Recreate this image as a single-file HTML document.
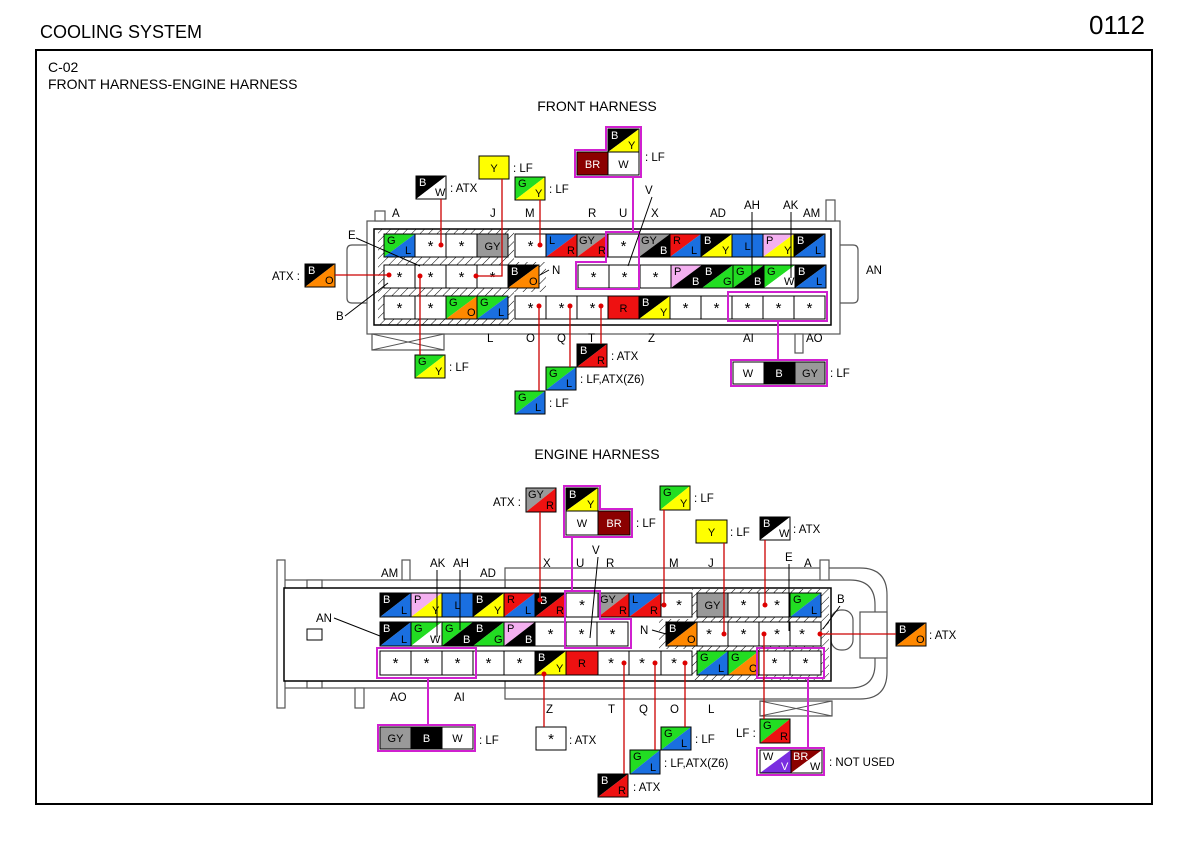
<!DOCTYPE html>
<html><head><meta charset="utf-8"><style>
body{margin:0;background:#fff}
svg{display:block}
text{font-family:"Liberation Sans",sans-serif}
.c{fill:none;stroke:#000;stroke-width:1}
.l{font-size:11px}
.k{font-size:11px;fill:#fff}
.a{font-size:15px}
.r{stroke:#c00;stroke-width:1.3;fill:none}
.m{stroke:#d020d0;stroke-width:2;fill:none}
.lb{font-size:11.5px}
</style></head><body>
<svg width="1189" height="859" viewBox="0 0 1189 859" xmlns="http://www.w3.org/2000/svg">
<defs>
<pattern id="h" width="6" height="6" patternUnits="userSpaceOnUse" patternTransform="rotate(45)"><line x1="0" y1="0" x2="0" y2="6" stroke="#000" stroke-width="1"/></pattern>
</defs>
<rect width="1189" height="859" fill="#fff"/>
<text x="40" y="38" font-size="18">COOLING SYSTEM</text>
<text x="1089" y="34" font-size="26">0112</text>
<rect x="36" y="50" width="1116" height="754" fill="none" stroke="#000" stroke-width="2"/>
<text x="48" y="72" font-size="14">C-02</text>
<text x="48" y="89" font-size="14">FRONT HARNESS-ENGINE HARNESS</text>
<text x="597" y="111" font-size="14" text-anchor="middle">FRONT HARNESS</text>
<text x="597" y="459" font-size="14" text-anchor="middle">ENGINE HARNESS</text>

<!-- FRONT HOUSING -->
<g stroke="#555" fill="#fff" stroke-width="1.2">
<path d="M347 250 Q347 245 352 245 H378 V303 H352 Q347 303 347 298Z"/>
<path d="M831 245 H853 Q858 245 858 250 V298 Q858 303 853 303 H831Z"/>
<rect x="367" y="221" width="473" height="113"/>
<rect x="375" y="211" width="10" height="10"/>
<rect x="826" y="200" width="9" height="21"/>
<rect x="372" y="334" width="72" height="16"/>
<rect x="795" y="334" width="8" height="19"/>
</g>
<path d="M372 334 L444 350 M444 334 L372 350" stroke="#555"/>
<rect x="374" y="229" width="457" height="96" fill="#fff" stroke="#000" stroke-width="1.5"/>
<path d="M378 229 H514 V262 H546 V292 H514 V325 H378Z" fill="url(#h)"/>
<g stroke="#000" fill="#fff">
<rect x="384" y="234" width="124" height="23"/><rect x="515" y="234" width="310" height="23"/>
<rect x="384" y="265" width="155" height="23"/><rect x="578" y="265" width="248" height="23"/>
<rect x="384" y="296" width="124" height="23"/><rect x="515" y="296" width="310" height="23"/>
</g>

<!-- front row1 -->
<g transform="translate(384,234)"><path d="M0 0h31L0 23z" fill="#2d2"/><path d="M31 0v23H0z" fill="#1a6fe0"/><rect width="31" height="23" class="c"/><text x="3" y="10" class="l">G</text><text x="21" y="20" class="l">L</text></g>
<g transform="translate(415,234)"><rect width="31" height="23" class="c"/><text x="15.5" y="17" class="a" text-anchor="middle">*</text></g>
<g transform="translate(446,234)"><rect width="31" height="23" class="c"/><text x="15.5" y="17" class="a" text-anchor="middle">*</text></g>
<g transform="translate(477,234)"><rect width="31" height="23" fill="#999" stroke="#000"/><text x="15.5" y="16" class="l" text-anchor="middle">GY</text></g>
<g transform="translate(515,234)"><rect width="31" height="23" class="c"/><text x="15.5" y="17" class="a" text-anchor="middle">*</text></g>
<g transform="translate(546,234)"><path d="M0 0h31L0 23z" fill="#1a6fe0"/><path d="M31 0v23H0z" fill="#e11"/><rect width="31" height="23" class="c"/><text x="3" y="10" class="l">L</text><text x="21" y="20" class="l">R</text></g>
<g transform="translate(577,234)"><path d="M0 0h31L0 23z" fill="#999"/><path d="M31 0v23H0z" fill="#e11"/><rect width="31" height="23" class="c"/><text x="2" y="10" class="l">GY</text><text x="21" y="20" class="l">R</text></g>
<g transform="translate(608,234)"><rect width="31" height="23" class="c"/><text x="15.5" y="17" class="a" text-anchor="middle">*</text></g>
<g transform="translate(639,234)"><path d="M0 0h31L0 23z" fill="#999"/><path d="M31 0v23H0z" fill="#000"/><rect width="31" height="23" class="c"/><text x="2" y="10" class="l">GY</text><text x="21" y="20" class="k">B</text></g>
<g transform="translate(670,234)"><path d="M0 0h31L0 23z" fill="#e11"/><path d="M31 0v23H0z" fill="#1a6fe0"/><rect width="31" height="23" class="c"/><text x="3" y="10" class="l">R</text><text x="21" y="20" class="l">L</text></g>
<g transform="translate(701,234)"><path d="M0 0h31L0 23z" fill="#000"/><path d="M31 0v23H0z" fill="#ff0"/><rect width="31" height="23" class="c"/><text x="3" y="10" class="k">B</text><text x="21" y="20" class="l">Y</text></g>
<g transform="translate(732,234)"><rect width="31" height="23" fill="#1a6fe0" stroke="#000"/><text x="15.5" y="16" class="l" text-anchor="middle">L</text></g>
<g transform="translate(763,234)"><path d="M0 0h31L0 23z" fill="#f4b0f0"/><path d="M31 0v23H0z" fill="#ff0"/><rect width="31" height="23" class="c"/><text x="3" y="10" class="l">P</text><text x="21" y="20" class="l">Y</text></g>
<g transform="translate(794,234)"><path d="M0 0h31L0 23z" fill="#000"/><path d="M31 0v23H0z" fill="#1a6fe0"/><rect width="31" height="23" class="c"/><text x="3" y="10" class="k">B</text><text x="21" y="20" class="l">L</text></g>
<!-- front row2 -->
<g transform="translate(384,265)"><rect width="31" height="23" class="c"/><text x="15.5" y="17" class="a" text-anchor="middle">*</text></g>
<g transform="translate(415,265)"><rect width="31" height="23" class="c"/><text x="15.5" y="17" class="a" text-anchor="middle">*</text></g>
<g transform="translate(446,265)"><rect width="31" height="23" class="c"/><text x="15.5" y="17" class="a" text-anchor="middle">*</text></g>
<g transform="translate(477,265)"><rect width="31" height="23" class="c"/><text x="15.5" y="17" class="a" text-anchor="middle">*</text></g>
<g transform="translate(508,265)"><path d="M0 0h31L0 23z" fill="#000"/><path d="M31 0v23H0z" fill="#f80"/><rect width="31" height="23" class="c"/><text x="3" y="10" class="k">B</text><text x="21" y="20" class="l">O</text></g>
<g transform="translate(578,265)"><rect width="31" height="23" class="c"/><text x="15.5" y="17" class="a" text-anchor="middle">*</text></g>
<g transform="translate(609,265)"><rect width="31" height="23" class="c"/><text x="15.5" y="17" class="a" text-anchor="middle">*</text></g>
<g transform="translate(640,265)"><rect width="31" height="23" class="c"/><text x="15.5" y="17" class="a" text-anchor="middle">*</text></g>
<g transform="translate(671,265)"><path d="M0 0h31L0 23z" fill="#f4b0f0"/><path d="M31 0v23H0z" fill="#000"/><rect width="31" height="23" class="c"/><text x="3" y="10" class="l">P</text><text x="21" y="20" class="k">B</text></g>
<g transform="translate(702,265)"><path d="M0 0h31L0 23z" fill="#000"/><path d="M31 0v23H0z" fill="#2d2"/><rect width="31" height="23" class="c"/><text x="3" y="10" class="k">B</text><text x="21" y="20" class="l">G</text></g>
<g transform="translate(733,265)"><path d="M0 0h31L0 23z" fill="#2d2"/><path d="M31 0v23H0z" fill="#000"/><rect width="31" height="23" class="c"/><text x="3" y="10" class="l">G</text><text x="21" y="20" class="k">B</text></g>
<g transform="translate(764,265)"><path d="M0 0h31L0 23z" fill="#2d2"/><path d="M31 0v23H0z" fill="#fff"/><rect width="31" height="23" class="c"/><text x="3" y="10" class="l">G</text><text x="20" y="20" class="l">W</text></g>
<g transform="translate(795,265)"><path d="M0 0h31L0 23z" fill="#000"/><path d="M31 0v23H0z" fill="#1a6fe0"/><rect width="31" height="23" class="c"/><text x="3" y="10" class="k">B</text><text x="21" y="20" class="l">L</text></g>
<!-- front row3 -->
<g transform="translate(384,296)"><rect width="31" height="23" class="c"/><text x="15.5" y="17" class="a" text-anchor="middle">*</text></g>
<g transform="translate(415,296)"><rect width="31" height="23" class="c"/><text x="15.5" y="17" class="a" text-anchor="middle">*</text></g>
<g transform="translate(446,296)"><path d="M0 0h31L0 23z" fill="#2d2"/><path d="M31 0v23H0z" fill="#f80"/><rect width="31" height="23" class="c"/><text x="3" y="10" class="l">G</text><text x="21" y="20" class="l">O</text></g>
<g transform="translate(477,296)"><path d="M0 0h31L0 23z" fill="#2d2"/><path d="M31 0v23H0z" fill="#1a6fe0"/><rect width="31" height="23" class="c"/><text x="3" y="10" class="l">G</text><text x="21" y="20" class="l">L</text></g>
<g transform="translate(515,296)"><rect width="31" height="23" class="c"/><text x="15.5" y="17" class="a" text-anchor="middle">*</text></g>
<g transform="translate(546,296)"><rect width="31" height="23" class="c"/><text x="15.5" y="17" class="a" text-anchor="middle">*</text></g>
<g transform="translate(577,296)"><rect width="31" height="23" class="c"/><text x="15.5" y="17" class="a" text-anchor="middle">*</text></g>
<g transform="translate(608,296)"><rect width="31" height="23" fill="#e11" stroke="#000"/><text x="15.5" y="16" class="l" text-anchor="middle">R</text></g>
<g transform="translate(639,296)"><path d="M0 0h31L0 23z" fill="#000"/><path d="M31 0v23H0z" fill="#ff0"/><rect width="31" height="23" class="c"/><text x="3" y="10" class="k">B</text><text x="21" y="20" class="l">Y</text></g>
<g transform="translate(670,296)"><rect width="31" height="23" class="c"/><text x="15.5" y="17" class="a" text-anchor="middle">*</text></g>
<g transform="translate(701,296)"><rect width="31" height="23" class="c"/><text x="15.5" y="17" class="a" text-anchor="middle">*</text></g>
<g transform="translate(732,296)"><rect width="31" height="23" class="c"/><text x="15.5" y="17" class="a" text-anchor="middle">*</text></g>
<g transform="translate(763,296)"><rect width="31" height="23" class="c"/><text x="15.5" y="17" class="a" text-anchor="middle">*</text></g>
<g transform="translate(794,296)"><rect width="31" height="23" class="c"/><text x="15.5" y="17" class="a" text-anchor="middle">*</text></g>

<path class="m" d="M606 232 H639 V289 H576 V262 H606Z"/>
<rect class="m" x="728" y="292" width="99" height="29"/>

<g class="lb">
<text x="392" y="217">A</text><text x="490" y="217">J</text><text x="525" y="217">M</text><text x="588" y="217">R</text><text x="619" y="217">U</text><text x="651" y="217">X</text><text x="710" y="217">AD</text>
<text x="744" y="209">AH</text><text x="783" y="209">AK</text><text x="803" y="217">AM</text>
<text x="487" y="342">L</text><text x="526" y="342">O</text><text x="557" y="342">Q</text><text x="588" y="342">T</text><text x="648" y="342">Z</text><text x="743" y="342">AI</text><text x="806" y="342">AO</text>
<text x="866" y="274">AN</text><text x="348" y="239">E</text><text x="336" y="320">B</text><text x="552" y="274">N</text><text x="645" y="194">V</text>
</g>
<path d="M356 238 L420 266 M345 316 L388 283 M549 270 L540 275 M652 197 L628 266 M752 212 L752 278 M791 212 L791 278" stroke="#000" fill="none"/>

<g transform="translate(416,176)"><path d="M0 0h30L0 23z" fill="#000"/><path d="M30 0v23H0z" fill="#fff"/><rect width="30" height="23" class="c"/><text x="3" y="10" class="k">B</text><text x="19" y="20" class="l">W</text></g>
<text x="450" y="192" class="lb">: ATX</text>
<rect x="479" y="156" width="30" height="23" fill="#ff0" stroke="#000"/><text x="494" y="172" class="l" text-anchor="middle">Y</text><text x="513" y="172" class="lb">: LF</text>
<g transform="translate(515,177)"><path d="M0 0h30L0 23z" fill="#2d2"/><path d="M30 0v23H0z" fill="#ff0"/><rect width="30" height="23" class="c"/><text x="3" y="10" class="l">G</text><text x="20" y="20" class="l">Y</text></g>
<text x="549" y="193" class="lb">: LF</text>
<g transform="translate(608,129)"><path d="M0 0h31L0 23z" fill="#000"/><path d="M31 0v23H0z" fill="#ff0"/><rect width="31" height="23" class="c"/><text x="3" y="10" class="k">B</text><text x="20" y="20" class="l">Y</text></g>
<rect x="577" y="152" width="31" height="23" fill="#8b0000" stroke="#000"/><text x="592.5" y="168" class="k" text-anchor="middle">BR</text>
<rect x="608" y="152" width="31" height="23" fill="#fff" stroke="#000"/><text x="623.5" y="168" class="l" text-anchor="middle">W</text>
<path class="m" d="M606 127 H641 V177 H575 V150 H606Z"/>
<text x="645" y="161" class="lb">: LF</text>
<path class="m" d="M633 177 V232"/>
<g transform="translate(305,264)"><path d="M0 0h30L0 23z" fill="#000"/><path d="M30 0v23H0z" fill="#f80"/><rect width="30" height="23" class="c"/><text x="3" y="10" class="k">B</text><text x="20" y="20" class="l">O</text></g>
<text x="272" y="280" class="lb">ATX :</text>
<g transform="translate(415,355)"><path d="M0 0h30L0 23z" fill="#2d2"/><path d="M30 0v23H0z" fill="#ff0"/><rect width="30" height="23" class="c"/><text x="3" y="10" class="l">G</text><text x="20" y="20" class="l">Y</text></g>
<text x="449" y="371" class="lb">: LF</text>
<g transform="translate(577,344)"><path d="M0 0h30L0 23z" fill="#000"/><path d="M30 0v23H0z" fill="#e11"/><rect width="30" height="23" class="c"/><text x="3" y="10" class="k">B</text><text x="20" y="20" class="l">R</text></g>
<text x="611" y="360" class="lb">: ATX</text>
<g transform="translate(546,367)"><path d="M0 0h30L0 23z" fill="#2d2"/><path d="M30 0v23H0z" fill="#1a6fe0"/><rect width="30" height="23" class="c"/><text x="3" y="10" class="l">G</text><text x="20" y="20" class="l">L</text></g>
<text x="580" y="383" class="lb">: LF,ATX(Z6)</text>
<g transform="translate(515,391)"><path d="M0 0h30L0 23z" fill="#2d2"/><path d="M30 0v23H0z" fill="#1a6fe0"/><rect width="30" height="23" class="c"/><text x="3" y="10" class="l">G</text><text x="20" y="20" class="l">L</text></g>
<text x="549" y="407" class="lb">: LF</text>
<rect x="733" y="362" width="31" height="22" fill="#fff" stroke="#000"/><text x="748" y="377" class="l" text-anchor="middle">W</text>
<rect x="764" y="362" width="31" height="22" fill="#000" stroke="#000"/><text x="779" y="377" class="k" text-anchor="middle">B</text>
<rect x="795" y="362" width="30" height="22" fill="#999" stroke="#000"/><text x="810" y="377" class="l" text-anchor="middle">GY</text>
<rect class="m" x="731" y="360" width="96" height="26"/>
<text x="830" y="377" class="lb">: LF</text>
<path class="m" d="M778 321 V360"/>
<path class="r" d="M441 199 V245 M502 179 V276 H476 M540 200 V245 M335 275 H389 M420 276 V355 M601 306 V344 M570 306 V367 M539 306 V391"/>
<g fill="#d00"><circle cx="441" cy="245" r="2.5"/><circle cx="476" cy="276" r="2.5"/><circle cx="540" cy="245" r="2.5"/><circle cx="389" cy="275" r="2.5"/><circle cx="420" cy="276" r="2.5"/><circle cx="601" cy="306" r="2.5"/><circle cx="570" cy="306" r="2.5"/><circle cx="539" cy="306" r="2.5"/></g>

<!-- ENGINE HOUSING -->
<g stroke="#555" fill="none" stroke-width="1.2">
<path d="M505 568 H860 Q887 568 887 595 V672 Q887 699 860 699 H505 Z" fill="#fff"/>
<path d="M505 580 H850 Q875 580 875 605 V664 Q875 688 850 688 H505"/>
<rect x="284" y="580" width="221" height="108" fill="#fff"/>
<rect x="277" y="560" width="8" height="148" fill="#fff"/>
<rect x="307" y="580" width="15" height="8" fill="#fff"/>
<rect x="307" y="681" width="15" height="7" fill="#fff"/>
<rect x="402" y="560" width="8" height="20" fill="#fff"/>
<rect x="355" y="688" width="9" height="20" fill="#fff"/>
<rect x="820" y="560" width="9" height="20" fill="#fff"/>
<rect x="347" y="605" width="33" height="60" rx="12" fill="#fff"/>
<rect x="831" y="610" width="22" height="40" rx="10" fill="#fff"/>
<rect x="860" y="612" width="27" height="46" fill="#fff"/>
<rect x="760" y="701" width="72" height="15" fill="#fff"/>
</g>
<path d="M760 701 L832 716 M832 701 L760 716" stroke="#555"/>
<rect x="284" y="588" width="547" height="93" fill="#fff" stroke="#000" stroke-width="1.5"/>
<rect x="307" y="629" width="15" height="11" fill="#fff" stroke="#000"/>
<path d="M692 589 H829 V680 H692 V649 H659 V619 H692Z" fill="url(#h)"/>
<g stroke="#000" fill="#fff">
<rect x="380" y="593" width="312" height="24"/><rect x="697" y="593" width="124" height="24"/>
<rect x="380" y="622" width="248" height="24"/><rect x="666" y="622" width="155" height="24"/>
<rect x="380" y="651" width="312" height="24"/><rect x="697" y="651" width="124" height="24"/>
</g>
<!-- engine row1 -->
<g transform="translate(380,593)"><path d="M0 0h31L0 24z" fill="#000"/><path d="M31 0v24H0z" fill="#1a6fe0"/><rect width="31" height="24" class="c"/><text x="3" y="10" class="k">B</text><text x="21" y="21" class="l">L</text></g>
<g transform="translate(411,593)"><path d="M0 0h31L0 24z" fill="#f4b0f0"/><path d="M31 0v24H0z" fill="#ff0"/><rect width="31" height="24" class="c"/><text x="3" y="10" class="l">P</text><text x="21" y="21" class="l">Y</text></g>
<g transform="translate(442,593)"><rect width="31" height="24" fill="#1a6fe0" stroke="#000"/><text x="15.5" y="16" class="l" text-anchor="middle">L</text></g>
<g transform="translate(473,593)"><path d="M0 0h31L0 24z" fill="#000"/><path d="M31 0v24H0z" fill="#ff0"/><rect width="31" height="24" class="c"/><text x="3" y="10" class="k">B</text><text x="21" y="21" class="l">Y</text></g>
<g transform="translate(504,593)"><path d="M0 0h31L0 24z" fill="#e11"/><path d="M31 0v24H0z" fill="#1a6fe0"/><rect width="31" height="24" class="c"/><text x="3" y="10" class="l">R</text><text x="21" y="21" class="l">L</text></g>
<g transform="translate(535,593)"><path d="M0 0h31L0 24z" fill="#000"/><path d="M31 0v24H0z" fill="#e11"/><rect width="31" height="24" class="c"/><text x="5" y="11" class="k">B</text><text x="21" y="21" class="l">R</text></g>
<g transform="translate(566,593)"><rect width="32" height="24" class="c"/><text x="16" y="17" class="a" text-anchor="middle">*</text></g>
<g transform="translate(598,593)"><path d="M0 0h31L0 24z" fill="#999"/><path d="M31 0v24H0z" fill="#e11"/><rect width="31" height="24" class="c"/><text x="2" y="10" class="l">GY</text><text x="21" y="21" class="l">R</text></g>
<g transform="translate(629,593)"><path d="M0 0h32L0 24z" fill="#1a6fe0"/><path d="M32 0v24H0z" fill="#e11"/><rect width="32" height="24" class="c"/><text x="3" y="10" class="l">L</text><text x="21" y="21" class="l">R</text></g>
<g transform="translate(661,593)"><rect width="31" height="24" class="c"/><text x="18" y="17" class="a" text-anchor="middle">*</text></g>
<g transform="translate(697,593)"><rect width="31" height="24" fill="#999" stroke="#000"/><text x="15.5" y="16" class="l" text-anchor="middle">GY</text></g>
<g transform="translate(728,593)"><rect width="31" height="24" class="c"/><text x="15.5" y="17" class="a" text-anchor="middle">*</text></g>
<g transform="translate(759,593)"><rect width="31" height="24" class="c"/><text x="18" y="17" class="a" text-anchor="middle">*</text></g>
<g transform="translate(790,593)"><path d="M0 0h31L0 24z" fill="#2d2"/><path d="M31 0v24H0z" fill="#1a6fe0"/><rect width="31" height="24" class="c"/><text x="3" y="10" class="l">G</text><text x="21" y="21" class="l">L</text></g>
<!-- engine row2 -->
<g transform="translate(380,622)"><path d="M0 0h31L0 24z" fill="#000"/><path d="M31 0v24H0z" fill="#1a6fe0"/><rect width="31" height="24" class="c"/><text x="3" y="10" class="k">B</text><text x="21" y="21" class="l">L</text></g>
<g transform="translate(411,622)"><path d="M0 0h31L0 24z" fill="#2d2"/><path d="M31 0v24H0z" fill="#fff"/><rect width="31" height="24" class="c"/><text x="3" y="10" class="l">G</text><text x="19" y="21" class="l">W</text></g>
<g transform="translate(442,622)"><path d="M0 0h31L0 24z" fill="#2d2"/><path d="M31 0v24H0z" fill="#000"/><rect width="31" height="24" class="c"/><text x="3" y="10" class="l">G</text><text x="21" y="21" class="k">B</text></g>
<g transform="translate(473,622)"><path d="M0 0h31L0 24z" fill="#000"/><path d="M31 0v24H0z" fill="#2d2"/><rect width="31" height="24" class="c"/><text x="3" y="10" class="k">B</text><text x="21" y="21" class="l">G</text></g>
<g transform="translate(504,622)"><path d="M0 0h31L0 24z" fill="#f4b0f0"/><path d="M31 0v24H0z" fill="#000"/><rect width="31" height="24" class="c"/><text x="3" y="10" class="l">P</text><text x="21" y="21" class="k">B</text></g>
<g transform="translate(535,622)"><rect width="31" height="24" class="c"/><text x="15.5" y="17" class="a" text-anchor="middle">*</text></g>
<g transform="translate(566,622)"><rect width="31" height="24" class="c"/><text x="15.5" y="17" class="a" text-anchor="middle">*</text></g>
<g transform="translate(597,622)"><rect width="31" height="24" class="c"/><text x="15.5" y="17" class="a" text-anchor="middle">*</text></g>
<g transform="translate(666,622)"><path d="M0 0h31L0 24z" fill="#000"/><path d="M31 0v24H0z" fill="#f80"/><rect width="31" height="24" class="c"/><text x="3" y="10" class="k">B</text><text x="21" y="21" class="l">O</text></g>
<g transform="translate(697,622)"><rect width="31" height="24" class="c"/><text x="12" y="17" class="a" text-anchor="middle">*</text></g>
<g transform="translate(728,622)"><rect width="31" height="24" class="c"/><text x="15.5" y="17" class="a" text-anchor="middle">*</text></g>
<g transform="translate(759,622)"><rect width="31" height="24" class="c"/><text x="18" y="17" class="a" text-anchor="middle">*</text></g>
<g transform="translate(790,622)"><rect width="31" height="24" class="c"/><text x="12" y="17" class="a" text-anchor="middle">*</text></g>
<!-- engine row3 -->
<g transform="translate(380,651)"><rect width="31" height="24" class="c"/><text x="15.5" y="17" class="a" text-anchor="middle">*</text></g>
<g transform="translate(411,651)"><rect width="31" height="24" class="c"/><text x="15.5" y="17" class="a" text-anchor="middle">*</text></g>
<g transform="translate(442,651)"><rect width="31" height="24" class="c"/><text x="15.5" y="17" class="a" text-anchor="middle">*</text></g>
<g transform="translate(473,651)"><rect width="31" height="24" class="c"/><text x="15.5" y="17" class="a" text-anchor="middle">*</text></g>
<g transform="translate(504,651)"><rect width="31" height="24" class="c"/><text x="15.5" y="17" class="a" text-anchor="middle">*</text></g>
<g transform="translate(535,651)"><path d="M0 0h31L0 24z" fill="#000"/><path d="M31 0v24H0z" fill="#ff0"/><rect width="31" height="24" class="c"/><text x="3" y="10" class="k">B</text><text x="21" y="21" class="l">Y</text></g>
<g transform="translate(566,651)"><rect width="32" height="24" fill="#e11" stroke="#000"/><text x="16" y="16" class="l" text-anchor="middle">R</text></g>
<g transform="translate(598,651)"><rect width="31" height="24" class="c"/><text x="13" y="17" class="a" text-anchor="middle">*</text></g>
<g transform="translate(629,651)"><rect width="32" height="24" class="c"/><text x="13" y="17" class="a" text-anchor="middle">*</text></g>
<g transform="translate(661,651)"><rect width="31" height="24" class="c"/><text x="13" y="17" class="a" text-anchor="middle">*</text></g>
<g transform="translate(697,651)"><path d="M0 0h31L0 24z" fill="#2d2"/><path d="M31 0v24H0z" fill="#1a6fe0"/><rect width="31" height="24" class="c"/><text x="3" y="10" class="l">G</text><text x="21" y="21" class="l">L</text></g>
<g transform="translate(728,651)"><path d="M0 0h31L0 24z" fill="#2d2"/><path d="M31 0v24H0z" fill="#f80"/><rect width="31" height="24" class="c"/><text x="3" y="10" class="l">G</text><text x="21" y="21" class="l">O</text></g>
<g transform="translate(759,651)"><rect width="31" height="24" class="c"/><text x="15.5" y="17" class="a" text-anchor="middle">*</text></g>
<g transform="translate(790,651)"><rect width="31" height="24" class="c"/><text x="15.5" y="17" class="a" text-anchor="middle">*</text></g>
<!-- engine pink -->
<path class="m" d="M565 591 H600 V619 H631 V648 H565Z"/>
<rect class="m" x="377" y="648" width="99" height="30"/>
<rect class="m" x="757" y="648" width="67" height="30"/>

<g class="lb">
<text x="381" y="577">AM</text><text x="430" y="567">AK</text><text x="453" y="567">AH</text><text x="480" y="577">AD</text><text x="543" y="567">X</text><text x="576" y="567">U</text><text x="606" y="567">R</text><text x="669" y="567">M</text><text x="708" y="567">J</text><text x="785" y="561">E</text><text x="804" y="567">A</text>
<text x="316" y="622">AN</text><text x="837" y="603">B</text><text x="640" y="634">N</text><text x="592" y="554">V</text>
<text x="390" y="701">AO</text><text x="454" y="701">AI</text><text x="546" y="713">Z</text><text x="608" y="713">T</text><text x="639" y="713">Q</text><text x="670" y="713">O</text><text x="708" y="713">L</text>
</g>
<path d="M334 618 L380 636 M437 570 L437 637 M460 570 L460 630 M598 557 L590 638 M652 630 L666 634 M789 564 V631 M840 606 L823 629" stroke="#000" fill="none"/>

<!-- engine callouts -->
<g transform="translate(526,488)"><path d="M0 0h30L0 24z" fill="#999"/><path d="M30 0v24H0z" fill="#e11"/><rect width="30" height="24" class="c"/><text x="2" y="10" class="l">GY</text><text x="20" y="21" class="l">R</text></g>
<text x="493" y="506" class="lb">ATX :</text>
<g transform="translate(566,488)"><path d="M0 0h32L0 23z" fill="#000"/><path d="M32 0v23H0z" fill="#ff0"/><rect width="32" height="23" class="c"/><text x="3" y="10" class="k">B</text><text x="21" y="20" class="l">Y</text></g>
<rect x="566" y="511" width="32" height="24" fill="#fff" stroke="#000"/><text x="582" y="527" class="l" text-anchor="middle">W</text>
<rect x="598" y="511" width="32" height="24" fill="#8b0000" stroke="#000"/><text x="614" y="527" class="k" text-anchor="middle">BR</text>
<path class="m" d="M564 486 H600 V509 H632 V537 H564Z"/>
<text x="636" y="527" class="lb">: LF</text>
<path class="m" d="M572 537 V591"/>
<g transform="translate(660,486)"><path d="M0 0h30L0 24z" fill="#2d2"/><path d="M30 0v24H0z" fill="#ff0"/><rect width="30" height="24" class="c"/><text x="3" y="10" class="l">G</text><text x="20" y="21" class="l">Y</text></g>
<text x="694" y="502" class="lb">: LF</text>
<rect x="696" y="520" width="31" height="23" fill="#ff0" stroke="#000"/><text x="711.5" y="536" class="l" text-anchor="middle">Y</text><text x="730" y="536" class="lb">: LF</text>
<g transform="translate(760,517)"><path d="M0 0h30L0 23z" fill="#000"/><path d="M30 0v23H0z" fill="#fff"/><rect width="30" height="23" class="c"/><text x="3" y="10" class="k">B</text><text x="19" y="20" class="l">W</text></g>
<text x="793" y="533" class="lb">: ATX</text>
<g transform="translate(896,623)"><path d="M0 0h30L0 23z" fill="#000"/><path d="M30 0v23H0z" fill="#f80"/><rect width="30" height="23" class="c"/><text x="3" y="10" class="k">B</text><text x="20" y="20" class="l">O</text></g>
<text x="929" y="639" class="lb">: ATX</text>
<rect x="380" y="727" width="31" height="22" fill="#999" stroke="#000"/><text x="395.5" y="742" class="l" text-anchor="middle">GY</text>
<rect x="411" y="727" width="31" height="22" fill="#000" stroke="#000"/><text x="426.5" y="742" class="k" text-anchor="middle">B</text>
<rect x="442" y="727" width="31" height="22" fill="#fff" stroke="#000"/><text x="457.5" y="742" class="l" text-anchor="middle">W</text>
<rect class="m" x="378" y="725" width="97" height="26"/>
<text x="479" y="744" class="lb">: LF</text>
<path class="m" d="M428 678 V725 M808 678 V748"/>
<rect x="536" y="727" width="30" height="23" fill="#fff" stroke="#000"/><text x="551" y="744" class="a" text-anchor="middle">*</text><text x="569" y="744" class="lb">: ATX</text>
<g transform="translate(661,727)"><path d="M0 0h30L0 23z" fill="#2d2"/><path d="M30 0v23H0z" fill="#1a6fe0"/><rect width="30" height="23" class="c"/><text x="3" y="10" class="l">G</text><text x="20" y="20" class="l">L</text></g>
<text x="695" y="743" class="lb">: LF</text>
<g transform="translate(630,750)"><path d="M0 0h30L0 24z" fill="#2d2"/><path d="M30 0v24H0z" fill="#1a6fe0"/><rect width="30" height="24" class="c"/><text x="3" y="10" class="l">G</text><text x="20" y="21" class="l">L</text></g>
<text x="664" y="767" class="lb">: LF,ATX(Z6)</text>
<g transform="translate(598,774)"><path d="M0 0h30L0 23z" fill="#000"/><path d="M30 0v23H0z" fill="#e11"/><rect width="30" height="23" class="c"/><text x="3" y="10" class="k">B</text><text x="20" y="20" class="l">R</text></g>
<text x="633" y="791" class="lb">: ATX</text>
<g transform="translate(760,719)"><path d="M0 0h30L0 24z" fill="#2d2"/><path d="M30 0v24H0z" fill="#e11"/><rect width="30" height="24" class="c"/><text x="3" y="10" class="l">G</text><text x="20" y="21" class="l">R</text></g>
<text x="736" y="737" class="lb">LF :</text>
<g transform="translate(760,750)"><path d="M0 0h31L0 23z" fill="#fff"/><path d="M31 0v23H0z" fill="#7a2ee0"/><rect width="31" height="23" class="c"/><text x="3" y="10" class="l">W</text><text x="21" y="20" class="k">V</text></g>
<g transform="translate(791,750)"><path d="M0 0h31L0 23z" fill="#8b0000"/><path d="M31 0v23H0z" fill="#fff"/><rect width="31" height="23" class="c"/><text x="2" y="10" class="k">BR</text><text x="19" y="20" class="l">W</text></g>
<rect class="m" x="757" y="748" width="67" height="27"/>
<text x="829" y="766" class="lb">: NOT USED</text>
<path class="r" d="M540 512 V600 M664 510 V605 M724 543 V634 M765 540 V605 M896 634 H820 M544 674 V727 M685 663 V727 M655 663 V750 M624 663 V774 M764 634 V719"/>
<g fill="#d00"><circle cx="540" cy="600" r="2.5"/><circle cx="664" cy="605" r="2.5"/><circle cx="724" cy="634" r="2.5"/><circle cx="765" cy="605" r="2.5"/><circle cx="820" cy="634" r="2.5"/><circle cx="544" cy="674" r="2.5"/><circle cx="685" cy="663" r="2.5"/><circle cx="655" cy="663" r="2.5"/><circle cx="624" cy="663" r="2.5"/><circle cx="764" cy="634" r="2.5"/></g>
</svg>
</body></html>
